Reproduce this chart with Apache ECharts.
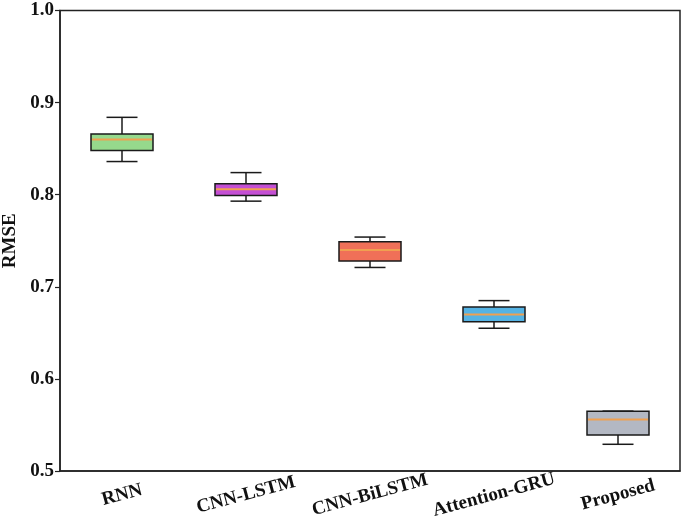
<!DOCTYPE html>
<html>
<head>
<meta charset="utf-8">
<script src="https://cdn.jsdelivr.net/npm/echarts@6/dist/echarts.min.js"></script>
<style>html,body{margin:0;padding:0;background:#fff;}#c{width:685px;height:531px;}</style>
</head>
<body>
<div id="c"></div>
<script>
var categories = ['RNN', 'CNN-LSTM', 'CNN-BiLSTM', 'Attention-GRU', 'Proposed'];
var whiskerLow = [0.836, 0.793, 0.721, 0.655, 0.529];
var q1 = [0.848, 0.799, 0.728, 0.662, 0.539];
var median = [0.860, 0.806, 0.740, 0.670, 0.556];
var q3 = [0.866, 0.812, 0.749, 0.678, 0.565];
var whiskerHigh = [0.884, 0.824, 0.754, 0.685, 0.565];
var boxColors = ['#96d98c', '#c44fd4', '#f07058', '#55b3e4', '#b3b8c3'];
var yTicks = [0.5, 0.6, 0.7, 0.8, 0.9, 1.0];

var data = categories.map(function (c, i) {
  return [i, whiskerLow[i], q1[i], median[i], q3[i], whiskerHigh[i]];
});

var font = '"Liberation Serif", "Times New Roman", serif';
var chart = echarts.init(document.getElementById('c'), null, {renderer: 'canvas'});
chart.setOption({
  animation: false,
  backgroundColor: '#fff',
  grid: {left: 60, right: 5, top: 10.5, bottom: 60, show: true, borderColor: '#222', borderWidth: 1.5,
    backgroundColor: 'transparent', containLabel: false, outerBoundsMode: 'none'},
  xAxis: {
    type: 'category',
    data: categories,
    boundaryGap: true,
    axisLine: {lineStyle: {color: '#222', width: 1.5}},
    axisTick: {alignWithLabel: true, length: 5, lineStyle: {color: '#222', width: 1.2}},
    axisLabel: {
      rotate: 15, align: 'center', verticalAlign: 'middle', margin: 24,
      fontFamily: font, fontWeight: 'bold', fontSize: 19, color: '#111'
    },
    splitLine: {show: false}
  },
  yAxis: {
    type: 'value',
    min: 0.5, max: 1.0, interval: 0.1,
    name: 'RMSE', nameLocation: 'middle', nameGap: 38,
    nameTextStyle: {fontFamily: font, fontWeight: 'bold', fontSize: 19, color: '#111'},
    axisLine: {show: true, lineStyle: {color: '#222', width: 1.5}},
    axisTick: {show: true, length: 5, lineStyle: {color: '#222', width: 1.2}},
    axisLabel: {
      fontFamily: font, fontWeight: 'bold', fontSize: 19, color: '#111', margin: 6,
      formatter: function (v) { return yTicks.indexOf(Math.round(v * 10) / 10) >= 0 ? v.toFixed(1) : ''; }
    },
    splitLine: {show: false}
  },
  series: [{
    type: 'custom',
    data: data,
    encode: {x: 0, y: [1, 2, 3, 4, 5]},
    renderItem: function (params, api) {
      var idx = api.value(0);
      var band = api.size([1, 0])[0];
      var bw = band * 0.5;
      var cw = bw * 0.5;
      var pLow = api.coord([idx, api.value(1)]);
      var pQ1 = api.coord([idx, api.value(2)]);
      var pMed = api.coord([idx, api.value(3)]);
      var pQ3 = api.coord([idx, api.value(4)]);
      var pHigh = api.coord([idx, api.value(5)]);
      var cx = pQ1[0];
      var black = {stroke: '#1a1a1a', lineWidth: 1.5, fill: null};
      return {
        type: 'group',
        children: [
          {type: 'line', shape: {x1: cx, y1: pQ1[1], x2: cx, y2: pLow[1]}, style: black},
          {type: 'line', shape: {x1: cx, y1: pQ3[1], x2: cx, y2: pHigh[1]}, style: black},
          {type: 'line', shape: {x1: cx - cw / 2, y1: pLow[1], x2: cx + cw / 2, y2: pLow[1]}, style: black},
          {type: 'line', shape: {x1: cx - cw / 2, y1: pHigh[1], x2: cx + cw / 2, y2: pHigh[1]}, style: black},
          {type: 'rect', shape: {x: cx - bw / 2, y: pQ3[1], width: bw, height: pQ1[1] - pQ3[1]},
            style: {fill: boxColors[idx], stroke: '#1a1a1a', lineWidth: 1.5}},
          {type: 'line', shape: {x1: cx - bw / 2 + 1, y1: pMed[1], x2: cx + bw / 2 - 1, y2: pMed[1]},
            style: {stroke: '#f0a050', lineWidth: 2}}
        ]
      };
    }
  }]
});
</script>
</body>
</html>
